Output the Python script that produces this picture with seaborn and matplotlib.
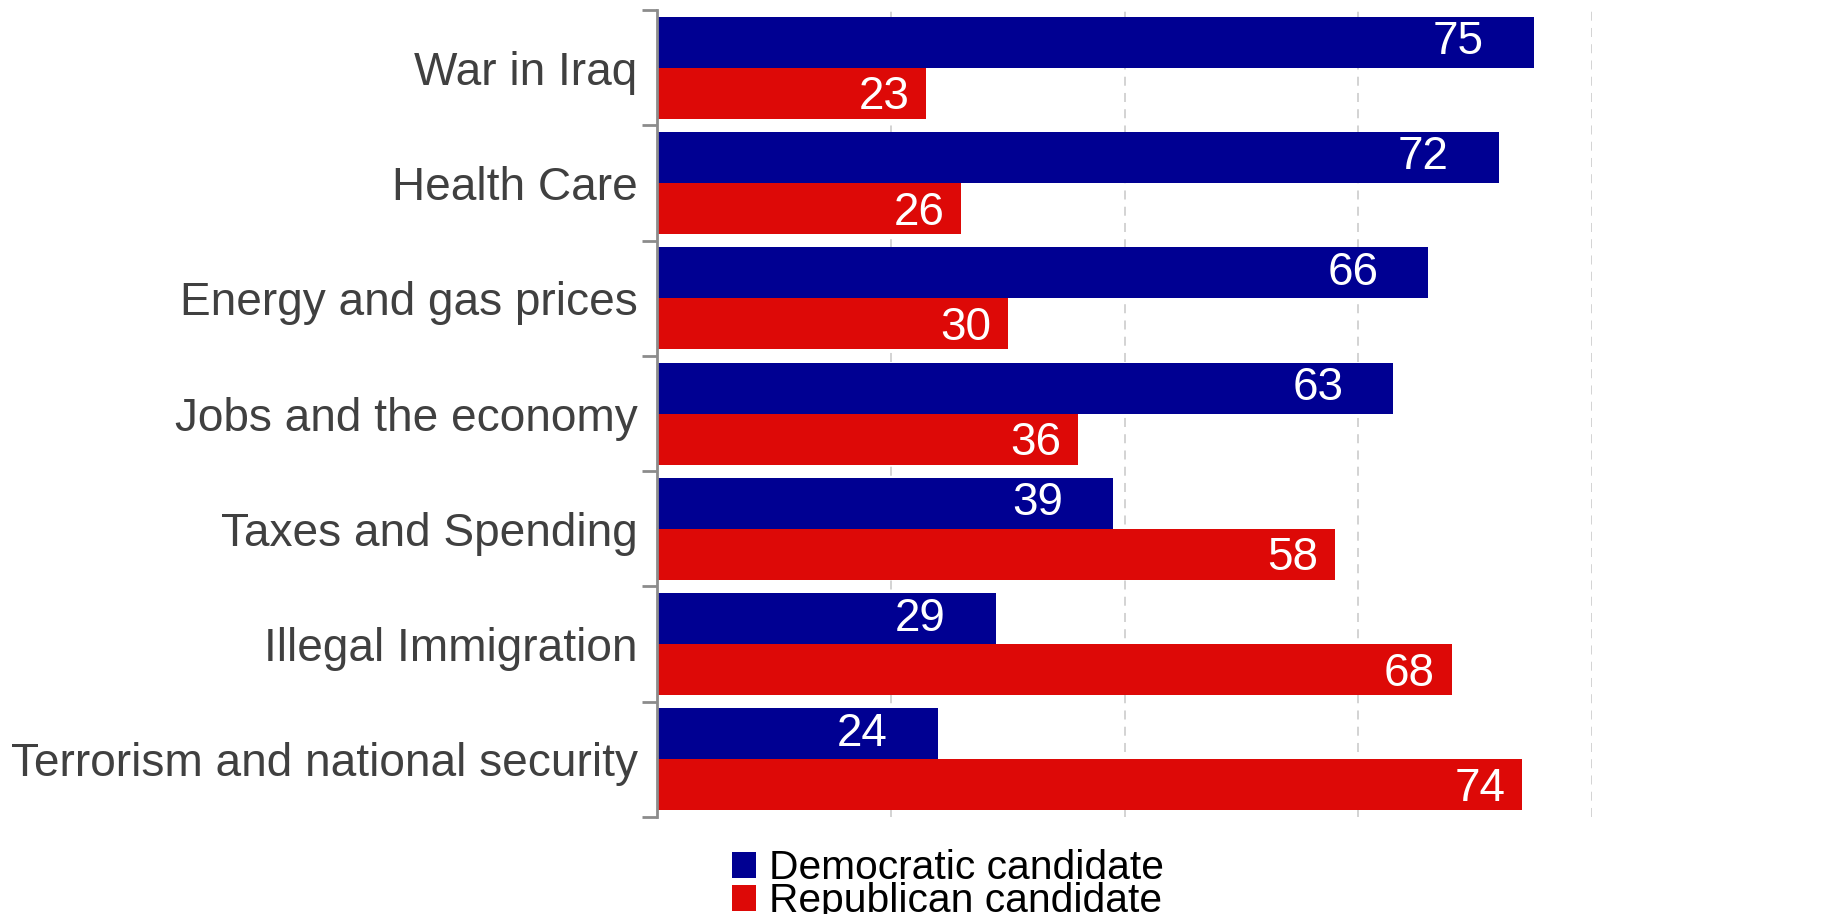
import matplotlib
matplotlib.use("Agg")
import matplotlib.pyplot as plt
import seaborn as sns
import pandas as pd
import numpy as np

categories = ["War in Iraq", "Health Care", "Energy and gas prices",
              "Jobs and the economy", "Taxes and Spending",
              "Illegal Immigration", "Terrorism and national security"]
democratic = [75, 72, 66, 63, 39, 29, 24]
republican = [23, 26, 30, 36, 58, 68, 74]
series_names = ["Democratic candidate", "Republican candidate"]
grid_ticks = [20, 40, 60, 80]

navy = "#000092"
red = "#DD0907"

sns.set_theme(style="white")
plt.rcParams["font.family"] = ["Liberation Sans", "DejaVu Sans"]

df = pd.DataFrame({
    "issue": categories * 2,
    "share": democratic + republican,
    "party": [series_names[0]] * len(categories) + [series_names[1]] * len(categories),
})

fig = plt.figure(figsize=(18.23, 9.14), dpi=100)
ax = fig.add_axes([0.3604, 0.1061, 0.8733 - 0.3604, 0.989 - 0.1061])

sns.barplot(data=df, y="issue", x="share", hue="party", orient="h",
            palette=[navy, red], width=0.885, saturation=1, errorbar=None,
            linewidth=0, ax=ax)

ax.set_xlim(0, 80)
ax.set_ylim(len(categories) - 0.5, -0.5)
ax.set_xticks(grid_ticks)
ax.set_xticklabels([])
ax.tick_params(axis="x", length=0)
ax.set_xlabel("")
ax.set_ylabel("")
ax.set_axisbelow(True)
ax.grid(axis="x", color="#d0d0d0", linestyle=(0, (5, 4)), linewidth=1.3)
ax.grid(axis="y", visible=False)

for s in ["top", "right", "bottom"]:
    ax.spines[s].set_visible(False)
ax.spines["left"].set_color("#8c8c8c")
ax.spines["left"].set_linewidth(2)

ax.tick_params(axis="y", which="major", length=0, pad=14, labelsize=33.1,
               labelcolor="#404040")
ax.set_yticks(np.arange(-0.5, len(categories), 1.0), minor=True)
ax.tick_params(axis="y", which="minor", length=11, width=2, color="#8c8c8c",
               direction="out", left=True)

offsets = [(-36, 0), (-12, -3)]
for container, (dx, dy) in zip(ax.containers, offsets):
    for bar in container:
        w = bar.get_width()
        yc = bar.get_y() + bar.get_height() / 2
        ax.annotate(f"{w:.0f}", (w, yc), xytext=(dx, dy),
                    textcoords="offset points", ha="right", va="center",
                    color="white", fontsize=33)

handles, labels = ax.get_legend_handles_labels()
if ax.get_legend() is not None:
    ax.get_legend().remove()
fig.legend(handles, labels, loc="upper left", bbox_to_anchor=(0.4015, 0.071),
           frameon=False, fontsize=29.3, handlelength=0.6, handleheight=0.6,
           handletextpad=0.3, labelspacing=-0.12, borderpad=0, borderaxespad=0,
           labelcolor="black")

fig.savefig("out.png", dpi=100)
